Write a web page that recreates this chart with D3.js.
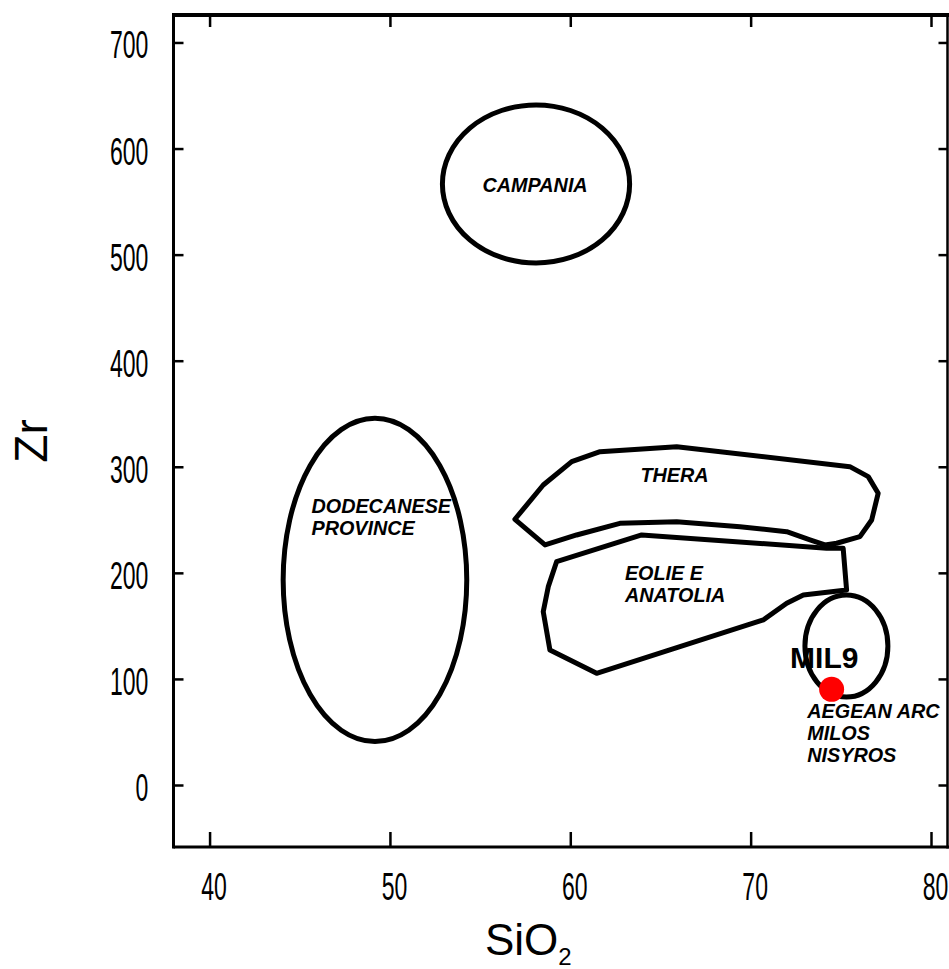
<!DOCTYPE html>
<html>
<head>
<meta charset="utf-8">
<script src="https://cdn.jsdelivr.net/npm/d3@7"></script>
<style>
  html, body { margin: 0; padding: 0; background: #fff; }
  svg { display: block; }
  text { font-family: "Liberation Sans", Arial, sans-serif; fill: #000; }
</style>
</head>
<body>
<svg id="chart" width="949" height="969"></svg>
<script>
// ---- data ----
const xTicks = [40, 50, 60, 70, 80];
const yTicks = [0, 100, 200, 300, 400, 500, 600, 700];

// field ellipses (SiO2 centre, Zr centre, SiO2 radius, Zr radius)
const ellipseNames = ["CAMPANIA", "DODECANESE PROVINCE", "AEGEAN ARC"];
const ellipseCx = [58.10, 49.17, 75.31];
const ellipseCy = [566.6, 193.3, 131.0];
const ellipseRx = [5.19, 5.09, 2.30];
const ellipseRy = [74.5, 152.4, 48.1];

// field polygons
const theraSiO2 = [56.93, 58.50, 60.08, 61.65, 65.90, 75.50, 76.52, 77.07, 76.71, 76.06, 74.77, 74.12, 73.29, 72.00, 69.41, 65.90, 62.75, 60.35, 58.60];
const theraZr   = [250.5, 282.8, 304.8, 314.2, 318.9, 300.1, 290.7, 275.0, 249.8, 234.1, 227.9, 226.3, 231.0, 238.8, 243.5, 248.2, 246.7, 235.7, 226.3];
const eolieSiO2 = [63.96, 74.21, 75.13, 75.32, 72.92, 72.00, 70.70, 61.46, 58.87, 58.50, 58.78, 59.24];
const eolieZr   = [235.7, 223.2, 223.2, 183.8, 179.1, 171.3, 155.6, 105.3, 127.3, 163.4, 187.0, 210.5];

// sample
const sampleName = ["MIL9"];
const sampleSiO2 = [74.49];
const sampleZr = [90.2];

// field labels (anchor in data units)
const labelLines = [
  ["CAMPANIA"], ["DODECANESE", "PROVINCE"], ["THERA"], ["EOLIE E", "ANATOLIA"], ["AEGEAN ARC", "MILOS", "NISYROS"]
];
const labelX = [58.05, 45.65, 65.78, 63.03, 73.14];
const labelY = [559.5, 256.4, 286.0, 193.3, 62.9];
const labelAnchor = ["middle", "start", "middle", "start", "start"];

// ---- layout ----
const svg = d3.select("#chart");
const L = 173.5, R = 947.5, T = 15, B = 847;
const x = d3.scaleLinear().domain([38.0, 80.915]).range([L, R]);
const y = d3.scaleLinear().domain([-58.45, 725.9]).range([B, T]);

// ticks via axes
const tickStyle = g => {
  g.select(".domain").remove();
  g.selectAll(".tick line").attr("stroke", "#000").attr("stroke-width", 2.5);
};
const gx = svg.append("g").attr("transform", `translate(0,${B})`)
  .call(d3.axisBottom(x).tickValues(xTicks).tickSizeInner(-15).tickSizeOuter(0).tickFormat(d3.format("d")))
  .call(tickStyle);
gx.selectAll(".tick text")
  .attr("y", null).attr("dy", null)
  .attr("transform", "translate(4,53) scale(0.59,1)")
  .attr("font-size", 39).attr("font-family", "Liberation Sans, Arial, sans-serif").attr("fill", "#000");

const gy = svg.append("g").attr("transform", `translate(${L},0)`)
  .call(d3.axisLeft(y).tickValues(yTicks).tickSizeInner(-10).tickSizeOuter(0).tickFormat(d3.format("d")))
  .call(tickStyle);
gy.selectAll(".tick text")
  .attr("x", null).attr("dy", null)
  .attr("transform", "translate(-25.2,15.5) scale(0.59,1)")
  .attr("font-size", 39).attr("font-family", "Liberation Sans, Arial, sans-serif").attr("fill", "#000");

svg.append("g").attr("transform", `translate(0,${T})`)
  .call(d3.axisTop(x).tickValues(xTicks).tickSizeInner(-12).tickSizeOuter(0).tickFormat(""))
  .call(tickStyle);
svg.append("g").attr("transform", `translate(${R},0)`)
  .call(d3.axisRight(y).tickValues(yTicks).tickSizeInner(-9).tickSizeOuter(0).tickFormat(""))
  .call(tickStyle);

// frame
svg.append("line").attr("x1", L).attr("x2", R + 1.5).attr("y1", T).attr("y2", T).attr("stroke", "#000").attr("stroke-width", 4);
svg.append("line").attr("x1", L).attr("x2", R + 1.5).attr("y1", B).attr("y2", B).attr("stroke", "#000").attr("stroke-width", 3);
svg.append("line").attr("x1", L).attr("x2", L).attr("y1", T - 2).attr("y2", B + 1.5).attr("stroke", "#000").attr("stroke-width", 3);
svg.append("line").attr("x1", R).attr("x2", R).attr("y1", T - 2).attr("y2", B + 1.5).attr("stroke", "#000").attr("stroke-width", 2.5);

// ellipses
const ell = ellipseNames.map((n, i) => ({ n, cx: ellipseCx[i], cy: ellipseCy[i], rx: ellipseRx[i], ry: ellipseRy[i] }));
svg.append("g").selectAll("ellipse").data(ell).join("ellipse")
  .attr("cx", d => x(d.cx)).attr("cy", d => y(d.cy))
  .attr("rx", d => x(d.cx + d.rx) - x(d.cx))
  .attr("ry", d => y(d.cy - d.ry) - y(d.cy))
  .attr("fill", "none").attr("stroke", "#000").attr("stroke-width", 5);

// polygons
const polys = [
  theraSiO2.map((v, i) => [v, theraZr[i]]),
  eolieSiO2.map((v, i) => [v, eolieZr[i]])
];
const line = d3.line().x(d => x(d[0])).y(d => y(d[1])).curve(d3.curveLinearClosed);
svg.append("g").selectAll("path").data(polys).join("path")
  .attr("d", line).attr("fill", "none").attr("stroke", "#000")
  .attr("stroke-width", 5).attr("stroke-linejoin", "round");

// field labels
const labs = labelLines.map((lines, i) => ({ lines, x: labelX[i], y: labelY[i], a: labelAnchor[i] }));
const lt = svg.append("g").selectAll("text").data(labs).join("text")
  .attr("x", d => x(d.x)).attr("y", d => y(d.y))
  .attr("text-anchor", d => d.a)
  .attr("font-size", 19.8).attr("font-weight", "bold").attr("font-style", "italic");
lt.selectAll("tspan").data(d => d.lines.map(t => ({ t, x: x(d.x) }))).join("tspan")
  .attr("x", d => d.x).attr("dy", (d, i) => i === 0 ? 0 : 21.8).text(d => d.t);

// sample point
svg.append("g").selectAll("circle").data(sampleName).join("circle")
  .attr("cx", (d, i) => x(sampleSiO2[i])).attr("cy", (d, i) => y(sampleZr[i]))
  .attr("r", 12.5).attr("fill", "#ff0000");
svg.append("g").selectAll("text").data(sampleName).join("text")
  .attr("x", (d, i) => x(sampleSiO2[i]) - 41.5).attr("y", (d, i) => y(sampleZr[i]) - 21)
  .attr("font-size", 30).attr("font-weight", "bold").text(d => d);

// axis titles
svg.append("text").attr("transform", "translate(47,441) rotate(-90)")
  .attr("text-anchor", "middle").attr("font-size", 46).text("Zr");
const st = svg.append("text").attr("x", 485).attr("y", 955).attr("font-size", 44);
st.append("tspan").text("SiO");
st.append("tspan").attr("font-size", 24).attr("dy", 10).text("2");
</script>
</body>
</html>
